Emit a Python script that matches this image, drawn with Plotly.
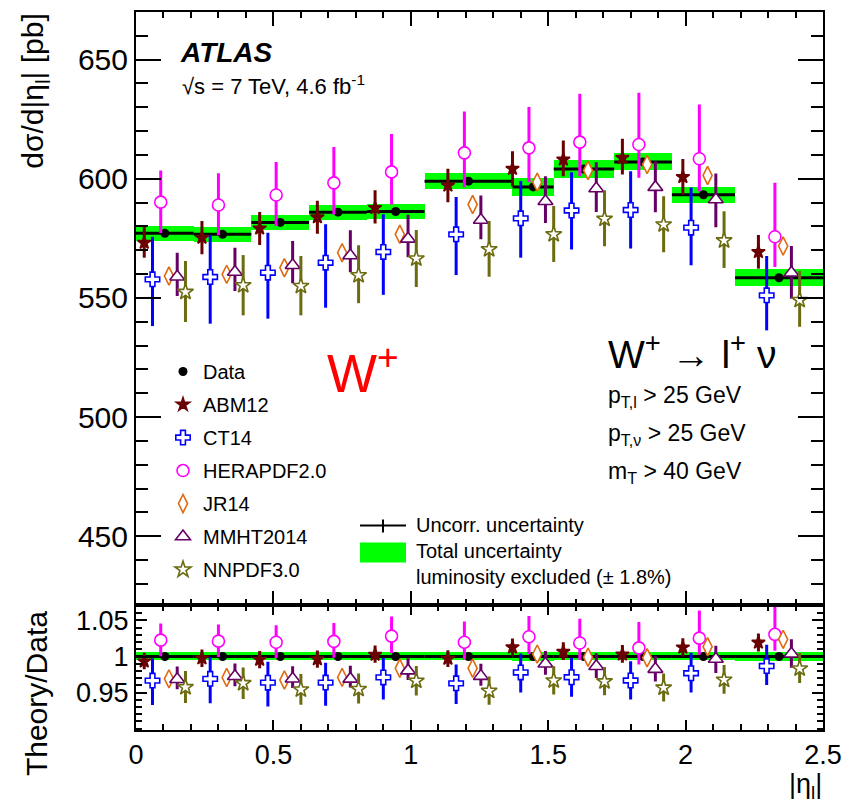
import plotly.graph_objects as go

# ---------------- data ----------------
eta_edges = [0.0, 0.21, 0.42, 0.63, 0.84, 1.05, 1.37, 1.52, 1.74, 1.95, 2.18, 2.5]

data_xsec = [577.1, 576.7, 581.7, 586.0, 586.3, 599.0, 596.6, 604.1, 607.1, 593.3, 558.5]
data_uncorr = [1.0, 1.0, 1.0, 1.0, 1.0, 1.0, 1.2, 1.1, 1.1, 1.1, 1.1]
data_total = [3.1, 3.1, 3.1, 3.2, 3.3, 3.4, 3.8, 3.6, 3.6, 3.4, 3.6]

abm12 = [573.2, 575.3, 579.2, 583.9, 587.8, 597.2, 604.2, 608.1, 608.8, 600.8, 569.3]
abm12_up = [7.0, 7.0, 6.9, 6.9, 7.4, 7.0, 7.4, 8.0, 8.0, 7.5, 7.1]
abm12_dn = [6.3, 7.0, 7.0, 7.0, 6.6, 7.0, 7.3, 7.0, 7.0, 7.4, 7.0]

ct14 = [557.8, 558.8, 560.6, 564.8, 569.3, 576.7, 583.4, 586.7, 586.9, 579.5, 551.1]
ct14_up = [17.9, 17.5, 16.8, 16.1, 15.8, 15.7, 15.7, 16.1, 16.3, 16.8, 16.5]
ct14_dn = [19.6, 19.6, 19.3, 18.9, 18.0, 17.1, 16.5, 16.4, 16.1, 15.8, 14.7]

herapdf = [590.2, 589.0, 593.2, 598.3, 602.9, 610.9, 613.0, 615.4, 614.4, 608.4, 575.7]
herapdf_up = [13.3, 13.3, 13.8, 15.0, 15.9, 17.3, 17.1, 20.3, 21.7, 22.8, 22.6]
herapdf_dn = [12.9, 12.7, 13.0, 13.3, 13.7, 14.4, 14.4, 14.3, 14.0, 13.6, 12.7]

jr14 = [559.2, 559.9, 562.7, 569.0, 576.7, 589.2, 598.6, 603.5, 606.0, 601.4, 571.8]

mmht = [558.9, 560.9, 563.7, 567.8, 574.8, 582.7, 590.6, 595.9, 596.5, 591.3, 560.6]
mmht_up = [10.1, 10.2, 10.2, 10.6, 10.1, 10.3, 10.5, 11.0, 10.9, 10.9, 11.2]
mmht_dn = [8.1, 8.0, 7.5, 7.0, 7.7, 8.1, 9.1, 9.8, 10.5, 11.6, 10.9]

nnpdf = [552.5, 555.3, 555.0, 559.5, 566.5, 570.4, 576.7, 583.2, 580.8, 574.1, 549.1]
nnpdf_up = [13.0, 12.7, 12.6, 12.6, 12.0, 11.9, 11.9, 12.0, 11.9, 12.3, 12.2]
nnpdf_dn = [12.6, 12.6, 12.3, 11.7, 11.9, 11.5, 11.6, 11.5, 11.6, 11.5, 11.2]

model_names = ["ABM12", "CT14", "HERAPDF2.0", "JR14", "MMHT2014", "NNPDF3.0"]
model_values = [abm12, ct14, herapdf, jr14, mmht, nnpdf]
model_up = [abm12_up, ct14_up, herapdf_up, None, mmht_up, nnpdf_up]
model_dn = [abm12_dn, ct14_dn, herapdf_dn, None, mmht_dn, nnpdf_dn]

x_tick_vals = [0, 0.5, 1, 1.5, 2, 2.5]
ratio_tick_vals = [0.95, 1, 1.05]
main_tick_vals = [450, 500, 550, 600, 650]

# ---------------- styles ----------------
FONT = "Liberation Sans, Arial, Helvetica, sans-serif"
styles = {
    "ABM12":      dict(color="#6a0000", symbol="star", fill="#6a0000", size=10, offset=-0.075),
    "CT14":       dict(color="#0000ff", symbol="cross", fill="white", size=12, offset=-0.045),
    "HERAPDF2.0": dict(color="#ff00ff", symbol="circle", fill="white", size=12, offset=-0.015),
    "JR14":       dict(color="#e06a10", symbol="diamond-tall", fill="white", size=13, offset=0.015),
    "MMHT2014":   dict(color="#660066", symbol="triangle-up", fill="white", size=13, offset=0.045),
    "NNPDF3.0":   dict(color="#6b6b10", symbol="star", fill="white", size=12, offset=0.075),
}

# page offset (body margin) and target plot area in page pixels
OFF = 8
W, H = 857 - OFF, 802 - OFF
PL, PR, PT, PB = 136, 823, 10, 730


def px(x):
    return (x - PL) / (PR - PL)


def py(y):
    return (PB - y) / (PB - PT)


split = py(605)

centers = [(a + b) / 2 for a, b in zip(eta_edges[:-1], eta_edges[1:])]
widths = [b - a for a, b in zip(eta_edges[:-1], eta_edges[1:])]

fig = go.Figure()

# ---------- panels: (x2,y2) main, (x,y) ratio ----------
for panel in ("main", "ratio"):
    xa, ya = ("x2", "y2") if panel == "main" else ("x", "y")
    if panel == "main":
        dval = data_xsec
        tot = data_total
        unc = data_uncorr
    else:
        dval = [1.0] * len(data_xsec)
        tot = [t / d for t, d in zip(data_total, data_xsec)]
        unc = [u / d for u, d in zip(data_uncorr, data_xsec)]

    # total uncertainty boxes
    fig.add_trace(go.Bar(
        x=centers, y=[2 * t for t in tot], base=[v - t for v, t in zip(dval, tot)],
        width=widths, marker=dict(color="#00ff00", line=dict(width=0)),
        showlegend=False, xaxis=xa, yaxis=ya, hoverinfo="skip"))

    # horizontal data lines across bins
    lx, ly = [], []
    for a, b, v in zip(eta_edges[:-1], eta_edges[1:], dval):
        lx += [a, b, None]
        ly += [v, v, None]
    fig.add_trace(go.Scatter(x=lx, y=ly, mode="lines", line=dict(color="black", width=3),
                             showlegend=False, xaxis=xa, yaxis=ya, hoverinfo="skip"))

    # data points
    fig.add_trace(go.Scatter(
        x=centers, y=dval, mode="markers", name="Data",
        marker=dict(color="black", size=9, symbol="circle"),
        error_y=dict(type="data", array=unc, color="black", thickness=2, width=0),
        showlegend=(panel == "main"), legendgroup="g0", xaxis=xa, yaxis=ya))

    # theory predictions
    for i, (name, vals, up, dn) in enumerate(zip(model_names, model_values, model_up, model_dn)):
        st = styles[name]
        xs = [c + st["offset"] for c in centers]
        if panel == "main":
            yv = vals
            eu, ed = up, dn
        else:
            yv = [v / d for v, d in zip(vals, data_xsec)]
            eu = None if up is None else [e / d for e, d in zip(up, data_xsec)]
            ed = None if dn is None else [e / d for e, d in zip(dn, data_xsec)]
        err = None
        if eu is not None:
            err = dict(type="data", symmetric=False, array=eu, arrayminus=ed,
                       color=st["color"], thickness=3, width=0)
        fig.add_trace(go.Scatter(
            x=xs, y=yv, mode="markers", name=name,
            marker=dict(symbol=st["symbol"], size=st["size"], color=st["fill"],
                        line=dict(color=st["color"], width=1.6)),
            error_y=err, showlegend=(panel == "main"), legendgroup="g%d" % (i + 1),
            xaxis=xa, yaxis=ya))

axis_common = dict(showline=True, linewidth=2, linecolor="black", mirror="allticks",
                   ticks="inside", tickcolor="black", tickwidth=2, showgrid=False,
                   zeroline=False)

fig.update_layout(
    width=W, height=H,
    margin=dict(l=PL - OFF, r=857 - PR, t=PT - OFF, b=802 - PB),
    paper_bgcolor="white", plot_bgcolor="white",
    barmode="overlay", bargap=0,
    font=dict(family=FONT, color="black"),
    xaxis=dict(domain=[0, 1], anchor="y", range=[0, 2.5], tickvals=x_tick_vals,
               ticklen=10, tickfont=dict(size=27, family=FONT),
               minor=dict(dtick=0.1, ticklen=6, tickwidth=2, tickcolor="black", ticks="inside"),
               **axis_common),
    yaxis=dict(domain=[0, split], anchor="x", range=[0.898, 1.071], tickvals=ratio_tick_vals,
               ticktext=["0.95", "1", "1.05"],
               ticklen=11, tickfont=dict(size=27, family=FONT),
               minor=dict(dtick=0.01, tick0=1, ticklen=6, tickwidth=2, tickcolor="black",
                          ticks="inside"),
               **axis_common),
    xaxis2=dict(domain=[0, 1], anchor="y2", matches="x", range=[0, 2.5], tickvals=x_tick_vals,
                showticklabels=False, ticklen=14,
                minor=dict(dtick=0.1, ticklen=6, tickwidth=2, tickcolor="black", ticks="inside"),
                **axis_common),
    yaxis2=dict(domain=[split, 1], anchor="x2", range=[421, 670], tickvals=main_tick_vals,
                ticklen=25, tickfont=dict(size=30, family=FONT),
                minor=dict(dtick=10, tick0=0, ticklen=12, tickwidth=2, tickcolor="black",
                           ticks="inside"),
                **axis_common),
    legend=dict(x=px(163), y=py(351), xanchor="left", yanchor="top",
                font=dict(size=20, family=FONT), bgcolor="rgba(0,0,0,0)",
                tracegroupgap=4, itemwidth=30, traceorder="grouped"),
)

# ---------- text ----------
def note(x, y, text, size, anchor="left", angle=0, color="black"):
    return dict(x=px(x), y=py(y), xref="paper", yref="paper", text=text, showarrow=False,
                textangle=angle, xanchor=anchor, yanchor="middle",
                font=dict(size=size, family=FONT, color=color))


ann = [
    note(35, 89, "dσ/d|η<sub>l</sub>| [pb]", 30, "center", -90),
    note(36, 694, "Theory/Data", 30, "center", -90),
    note(824, 786, "|η<sub>l</sub>|", 27, "right"),
    note(178, 51, "<b><i>ATLAS</i></b>", 28),
    note(180, 83, "√s = 7 TeV, 4.6 fb<sup>-1</sup>", 22),
    note(325, 368, "W<sup>+</sup>", 53, color="#ff0000"),
    note(606, 350, "W<sup>+</sup> → l<sup>+</sup> ν", 39),
    note(606, 396, "p<sub>T,l</sub> > 25 GeV", 23),
    note(606, 434, "p<sub>T,ν</sub> > 25 GeV", 23),
    note(606, 472, "m<sub>T</sub> > 40 GeV", 23),
    note(414, 524, "Uncorr. uncertainty", 20),
    note(414, 551, "Total uncertainty", 20),
    note(414, 577, "luminosity excluded (± 1.8%)", 20),
]
fig.update_layout(annotations=ann)

shapes = [
    dict(type="rect", xref="paper", yref="paper", x0=px(360), x1=px(406), y0=py(542), y1=py(562),
         fillcolor="#00ff00", line=dict(width=0)),
    dict(type="line", xref="paper", yref="paper", x0=px(360), x1=px(406), y0=py(525), y1=py(525),
         line=dict(color="black", width=2)),
    dict(type="line", xref="paper", yref="paper", x0=px(383), x1=px(383), y0=py(519), y1=py(532),
         line=dict(color="black", width=2)),
]
fig.update_layout(shapes=shapes)

fig.write_html("out.html")
